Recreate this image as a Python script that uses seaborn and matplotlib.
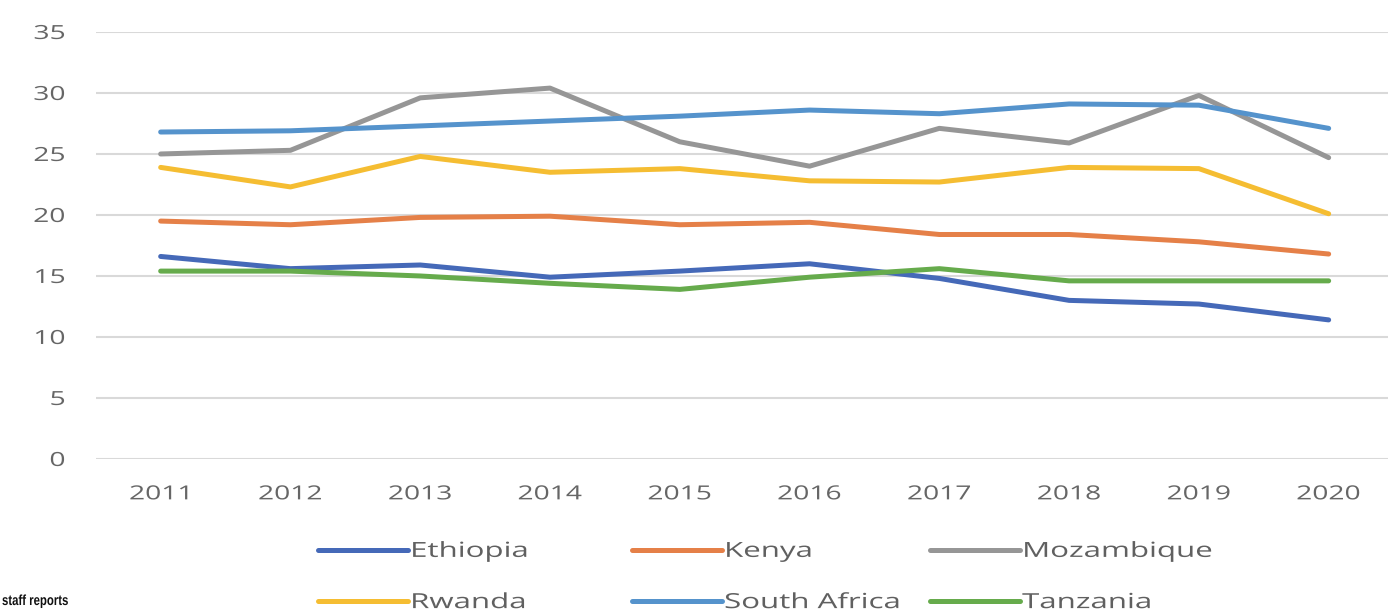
import numpy as np
import pandas as pd
import matplotlib
matplotlib.use("Agg")
import matplotlib.pyplot as plt
import seaborn as sns
from matplotlib.lines import Line2D
from matplotlib.patheffects import AbstractPathEffect
from matplotlib.transforms import Affine2D

years = ["2011", "2012", "2013", "2014", "2015", "2016", "2017", "2018", "2019", "2020"]
ethiopia = [16.6, 15.6, 15.9, 14.9, 15.4, 16.0, 14.8, 13.0, 12.7, 11.4]
kenya = [19.5, 19.2, 19.8, 19.9, 19.2, 19.4, 18.4, 18.4, 17.8, 16.8]
mozambique = [25.0, 25.3, 29.6, 30.4, 26.0, 24.0, 27.1, 25.9, 29.8, 24.7]
rwanda = [23.9, 22.3, 24.8, 23.5, 23.8, 22.8, 22.7, 23.9, 23.8, 20.1]
south_africa = [26.8, 26.9, 27.3, 27.7, 28.1, 28.6, 28.3, 29.1, 29.0, 27.1]
tanzania = [15.4, 15.4, 15.0, 14.4, 13.9, 14.9, 15.6, 14.6, 14.6, 14.6]
yticks = [0, 5, 10, 15, 20, 25, 30, 35]

series = {
    "Ethiopia": ethiopia,
    "Kenya": kenya,
    "Mozambique": mozambique,
    "Rwanda": rwanda,
    "South Africa": south_africa,
    "Tanzania": tanzania,
}
colors = {
    "Ethiopia": "#4569b8",
    "Kenya": "#e58048",
    "Mozambique": "#969696",
    "Rwanda": "#f5bd32",
    "South Africa": "#5593cc",
    "Tanzania": "#66ab4c",
}


class Stretch(AbstractPathEffect):
    """Horizontally stretch glyph outlines around an anchor."""

    def __init__(self, sx, anchor="left"):
        super().__init__()
        self.sx = sx
        self.anchor = anchor

    def draw_path(self, renderer, gc, tpath, affine, rgbFace=None):
        ext = tpath.get_extents()
        if self.anchor == "center":
            cx = (ext.x0 + ext.x1) / 2
        elif self.anchor == "right":
            cx = ext.x1
        else:
            cx = 0.0
        t = Affine2D().translate(-cx, 0).scale(self.sx, 1).translate(cx, 0) + affine
        renderer.draw_path(gc, tpath, t, rgbFace)


rows = []
for name, vals in series.items():
    for i, (y, v) in enumerate(zip(years, vals)):
        rows.append({"idx": i, "year": y, "country": name, "value": v})
df = pd.DataFrame(rows)

sns.set_theme(style="white")
plt.rcParams["font.family"] = ["Open Sans", "DejaVu Sans"]

fig = plt.figure(figsize=(13.88, 6.15), dpi=100)
ax = fig.add_axes([0.069, 0.2537, 0.935, 0.6943])

sns.lineplot(data=df, x="idx", y="value", hue="country", palette=colors,
             linewidth=3.6, ax=ax, legend=False, sort=False)

ax.set_xlim(-0.5, 9.5)
ax.set_ylim(0, 35)
ax.set_yticks(yticks)
ax.set_yticklabels([str(t) for t in yticks])
ax.set_xticks(range(len(years)))
ax.set_xticklabels(years)
ax.set_xlabel("")
ax.set_ylabel("")
for s in ax.spines.values():
    s.set_visible(False)
ax.grid(axis="y", color="#d9d9d9", linewidth=1.5)
ax.set_axisbelow(True)
ax.tick_params(axis="both", length=0, labelsize=14, labelcolor="#666666")
ax.tick_params(axis="y", pad=22)
ax.tick_params(axis="x", pad=19)
for lbl in ax.get_yticklabels():
    lbl.set_horizontalalignment("right")
    lbl.set_path_effects([Stretch(1.45, "right")])
for lbl in ax.get_xticklabels():
    lbl.set_path_effects([Stretch(1.45, "center")])

# legend: three columns, entries in row-major order like the reference
columns = [("Ethiopia", "Rwanda"), ("Kenya", "South Africa"), ("Mozambique", "Tanzania")]
col_x_px = [318, 632, 930]
for names, xpx in zip(columns, col_x_px):
    handles = [Line2D([0], [0], color=colors[n], linewidth=3.6) for n in names]
    leg = fig.legend(handles, list(names), ncol=1, loc="center left",
                     bbox_to_anchor=(xpx / 1388, 1 - 577 / 615), frameon=False,
                     fontsize=15, handlelength=4.3, handletextpad=0.12,
                     labelspacing=1.45, borderpad=0, borderaxespad=0)
    for t in leg.get_texts():
        t.set_color("#606060")
        t.set_path_effects([Stretch(1.5, "left")])

src = fig.text(2 / 1388, 1 - 601 / 615, "staff reports", fontsize=10.5, fontweight="bold",
               family=["Liberation Sans", "DejaVu Sans"], color="#111111",
               ha="left", va="center")
src.set_path_effects([Stretch(0.78, "left")])

fig.savefig("out.png", dpi=100)
